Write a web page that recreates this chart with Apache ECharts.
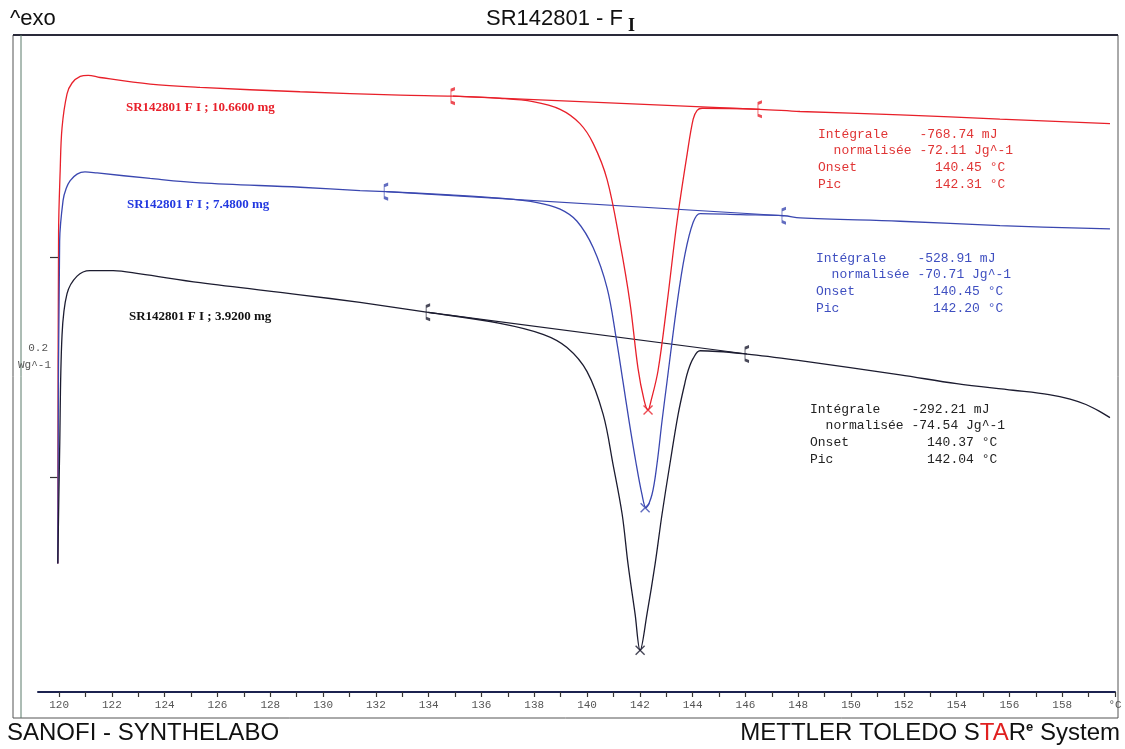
<!DOCTYPE html>
<html>
<head>
<meta charset="utf-8">
<script src="https://cdn.jsdelivr.net/npm/echarts@6/dist/echarts.min.js"></script>
<style>
html,body{margin:0;padding:0;background:#fff;}
#chart{width:1125px;height:749px;}
</style>
</head>
<body>
<div id="chart"></div>
<script>
// ---- Data (temperature in °C, heat flow in W/g, curves offset as displayed) ----
const redT = [119.95,119.98,120.04,120.11,120.30,120.49,120.80,121.10,121.55,123.45,125.34,129.13,132.92,134.92,136.70,137.95,138.98,139.73,140.23,140.76,141.25,141.63,141.93,142.16,142.31,142.42,142.69,143.03,143.41,143.79,144.02,144.17,144.36,146.55,148.07,151.86,155.64,159.81];
const redV = [-0.079,0.223,0.279,0.318,0.349,0.359,0.365,0.366,0.364,0.358,0.355,0.351,0.348,0.347,0.345,0.342,0.335,0.322,0.304,0.271,0.213,0.158,0.099,0.070,0.061,0.069,0.097,0.158,0.233,0.294,0.326,0.334,0.336,0.335,0.333,0.330,0.326,0.322];

const blueT = [119.95,120.02,120.15,120.27,120.42,120.68,120.98,121.44,123.45,125.34,129.13,131.40,132.39,134.81,136.70,138.11,138.98,139.62,140.23,140.76,141.10,141.36,141.59,141.86,142.08,142.23,142.46,142.65,142.84,143.03,143.41,143.71,144.02,144.28,145.80,147.46,148.07,151.86,155.64,159.81];
const blueV = [-0.079,0.215,0.252,0.263,0.270,0.276,0.278,0.277,0.272,0.268,0.264,0.261,0.260,0.257,0.254,0.250,0.244,0.233,0.209,0.172,0.127,0.087,0.051,0.012,-0.016,-0.028,-0.016,0.012,0.051,0.087,0.158,0.203,0.232,0.240,0.239,0.238,0.236,0.233,0.229,0.226];

const blackT = [119.95,120.02,120.11,120.30,120.68,121.17,122.05,123.07,125.34,129.13,131.40,133.98,136.70,138.33,139.24,140.00,140.61,140.98,141.33,141.55,141.82,142.01,142.27,142.58,142.84,143.14,143.45,143.71,143.83,144.02,144.28,146.06,148.07,151.86,154.00,156.14,157.50,158.30,158.90,159.40,159.81];
const blackV = [-0.079,0.024,0.129,0.167,0.183,0.188,0.188,0.185,0.177,0.166,0.159,0.150,0.140,0.130,0.118,0.096,0.057,0.012,-0.034,-0.079,-0.125,-0.158,-0.125,-0.079,-0.034,0.012,0.057,0.086,0.097,0.108,0.115,0.112,0.106,0.093,0.085,0.079,0.075,0.071,0.066,0.060,0.054];

// integration limits (start / end of baseline) per curve
const redLimitsT = [134.92, 146.55];
const redLimitsV = [0.347, 0.335];
const blueLimitsT = [132.39, 147.46];
const blueLimitsV = [0.260, 0.238];
const blackLimitsT = [133.98, 146.06];
const blackLimitsV = [0.150, 0.112];

// peak points
const peakT = [142.31, 142.20, 142.01];
const peakV = [0.061, -0.028, -0.158];

// axis ticks
const tickTemps = [120,121,122,123,124,125,126,127,128,129,130,131,132,133,134,135,136,137,138,139,140,141,142,143,144,145,146,147,148,149,150,151,152,153,154,155,156,157,158,159,160];
const labelTemps = [120,122,124,126,128,130,132,134,136,138,140,142,144,146,148,150,152,154,156,158,160];
const yTicks = [0, 0.2];

// texts
const sampleLabels = ['SR142801 F I ; 10.6600 mg', 'SR142801 F I ; 7.4800 mg', 'SR142801 F I ; 3.9200 mg'];
const resultsRed = ['Intégrale    -768.74 mJ', '  normalisée -72.11 Jg^-1', 'Onset          140.45 °C', 'Pic            142.31 °C'];
const resultsBlue = ['Intégrale    -528.91 mJ', '  normalisée -70.71 Jg^-1', 'Onset          140.45 °C', 'Pic            142.20 °C'];
const resultsBlack = ['Intégrale    -292.21 mJ', '  normalisée -74.54 Jg^-1', 'Onset          140.37 °C', 'Pic            142.04 °C'];

const RED = '#e8202a', BLUE = '#3a47b0', BLACK = '#1c1c30';

const zip = (a, b) => a.map((v, i) => [v, b[i]]);

function curve(name, t, v, color) {
  return {
    name: name, type: 'line', data: zip(t, v), symbol: 'none',
    smooth: 0.35,
    lineStyle: { color: color, width: 1.3 }, z: 3
  };
}
function baseline(t, v, color) {
  return {
    type: 'line', data: zip(t, v), symbol: 'none',
    lineStyle: { color: color, width: 1.2 }, z: 2
  };
}
const bracketPath = 'path://M3,0 L0,1.5 L0,12.5 L3,14';
function limits(t, v, color) {
  return {
    type: 'scatter', data: zip(t, v),
    symbol: bracketPath, symbolSize: [4, 15],
    itemStyle: { color: 'none', borderColor: color, borderWidth: 1.6 }, z: 4
  };
}
const crossPath = 'path://M0,0 L10,10 M10,0 L0,10';
const peakColors = [RED, BLUE, BLACK];

const chart = echarts.init(document.getElementById('chart'));
const monoFont = '"Liberation Mono", "DejaVu Sans Mono", monospace';
const sansFont = '"Liberation Sans", Arial, sans-serif';
const serifFont = '"Liberation Serif", "Times New Roman", serif';

function block(lines, x, y, color) {
  return { type: 'text', left: x, top: y, style: { text: lines.join('\n'), font: '13px ' + monoFont, fill: color, lineHeight: 16.6 } };
}

chart.setOption({
  animation: false,
  backgroundColor: '#ffffff',
  grid: { left: 38, right: 10, top: 38, bottom: 57 },
  xAxis: {
    type: 'value', min: 119.2, max: 160,
    axisLine: { show: true, onZero: false, lineStyle: { color: '#1c2350', width: 2 } },
    axisTick: { show: true, customValues: tickTemps, length: 5, lineStyle: { color: '#333', width: 1.2 } },
    axisLabel: {
      customValues: labelTemps, margin: 8,
      formatter: v => (v === 160 ? '°C' : String(v)),
      fontFamily: monoFont, fontSize: 11, color: '#555'
    },
    splitLine: { show: false }
  },
  yAxis: {
    type: 'value', min: -0.196, max: 0.4, offset: -20,
    axisLine: { show: false },
    axisTick: { show: true, customValues: yTicks, length: 8, lineStyle: { color: '#333', width: 1.2 } },
    axisLabel: { show: false },
    splitLine: { show: false }
  },
  series: [
    baseline(redLimitsT, redLimitsV, RED),
    baseline(blueLimitsT, blueLimitsV, BLUE),
    baseline(blackLimitsT, blackLimitsV, BLACK),
    curve('10.66 mg', redT, redV, RED),
    curve('7.48 mg', blueT, blueV, BLUE),
    curve('3.92 mg', blackT, blackV, BLACK),
    limits(redLimitsT, redLimitsV, RED),
    limits(blueLimitsT, blueLimitsV, BLUE),
    limits(blackLimitsT, blackLimitsV, BLACK),
    {
      type: 'scatter', z: 5,
      data: peakT.map((t, i) => ({ value: [t, peakV[i]], itemStyle: { borderColor: peakColors[i] } })),
      symbol: crossPath, symbolSize: 9,
      itemStyle: { color: 'none', borderWidth: 1.4 }
    }
  ],
  graphic: [
    { type: 'rect', shape: { x: 13, y: 35, width: 1105, height: 683 }, style: { fill: 'none', stroke: '#555', lineWidth: 1 }, silent: true },
    { type: 'line', shape: { x1: 13, y1: 35, x2: 1118, y2: 35 }, style: { stroke: '#2a2a3a', lineWidth: 2 }, silent: true },
    { type: 'line', shape: { x1: 21, y1: 35, x2: 21, y2: 718 }, style: { stroke: '#5a7a6a', lineWidth: 1 }, silent: true },
    { type: 'text', left: 10, top: 8, style: { text: '^exo', font: '22px ' + sansFont, fill: '#111' } },
    { type: 'text', left: 486, top: 8, style: { text: 'SR142801 - F', font: '22px ' + sansFont, fill: '#111' } },
    { type: 'text', left: 628, top: 17, style: { text: 'I', font: 'bold 18px ' + serifFont, fill: '#111' } },
    { type: 'text', left: 7, top: 721, style: { text: 'SANOFI - SYNTHELABO', font: '24px ' + sansFont, fill: '#111' } },
    { type: 'text', right: 5, top: 721, style: {
        text: '{a|METTLER TOLEDO S}{r|TA}{a|R}{e|e}{a| System}',
        rich: {
          a: { fontFamily: sansFont, fontSize: 24, fill: '#111' },
          r: { fontFamily: sansFont, fontSize: 24, fill: '#e02020' },
          e: { fontFamily: sansFont, fontSize: 13, fill: '#111', verticalAlign: 'top', fontWeight: 'bold' }
        } } },
    { type: 'text', left: 126, top: 101, style: { text: sampleLabels[0], font: 'bold 13px ' + serifFont, fill: RED } },
    { type: 'text', left: 127, top: 198, style: { text: sampleLabels[1], font: 'bold 13px ' + serifFont, fill: '#2238e0' } },
    { type: 'text', left: 129, top: 310, style: { text: sampleLabels[2], font: 'bold 13px ' + serifFont, fill: '#111' } },
    block(resultsRed, 818, 126, '#e03535'),
    block(resultsBlue, 816, 250, '#3f4fc0'),
    block(resultsBlack, 810, 401, '#222'),
    { type: 'text', right: 1125 - 48, top: 343, style: { text: '0.2', font: '11px ' + monoFont, fill: '#555', align: 'right' } },
    { type: 'text', right: 1125 - 51, top: 360, style: { text: 'Wg^-1', font: '11px ' + monoFont, fill: '#555', align: 'right' } }
  ]
});
</script>
</body>
</html>
